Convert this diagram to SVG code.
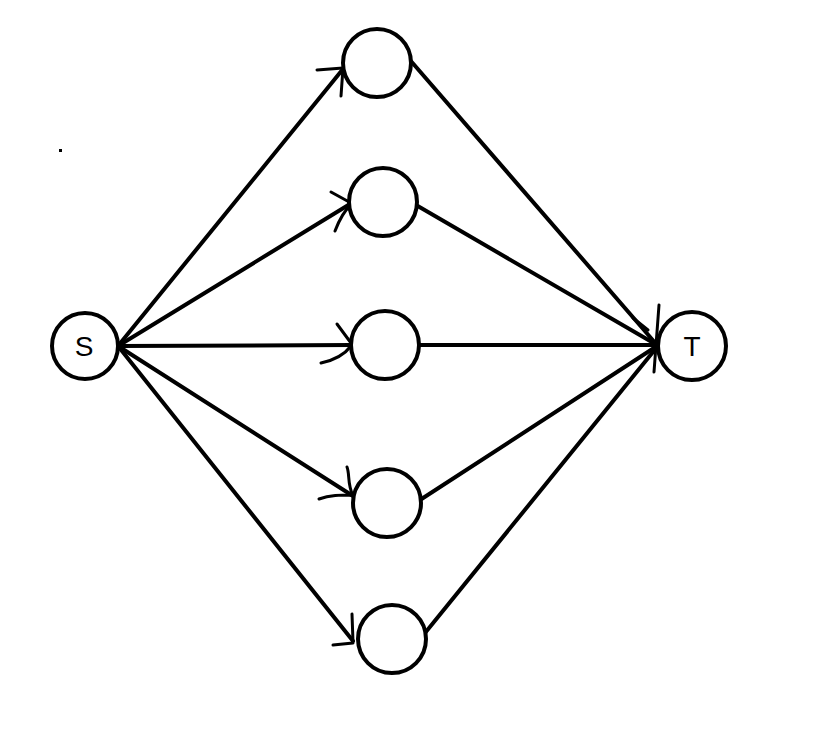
<svg xmlns="http://www.w3.org/2000/svg" width="828" height="756" viewBox="0 0 828 756">
<style>
.n{fill:#fff;stroke:#000;stroke-width:4}
.e{fill:none;stroke:#000;stroke-width:4;stroke-linecap:round;stroke-linejoin:round}
.w{fill:none;stroke:#000;stroke-width:3;stroke-linecap:round;stroke-linejoin:round}
.t{font-family:"Liberation Sans",Arial,sans-serif;font-size:28px;fill:#000;text-anchor:middle}
</style>
<rect width="828" height="756" fill="#fff"/>
<rect x="59" y="149" width="3" height="3" fill="#000"/>
<g id="connectors">
<path class="e" d="M118,346 L343,69"/>
<path class="e" d="M118,346 L350,204"/>
<path class="e" d="M118,346 L352,345"/>
<path class="e" d="M118,346 L353,496"/>
<path class="e" d="M118,346 L353,641"/>
<path class="e" d="M410,60 L657,345"/>
<path class="e" d="M416,205 L657,345"/>
<path class="e" d="M420,345 L657,345"/>
<path class="e" d="M420,500 L657,346"/>
<path class="e" d="M425,633 L657,347"/>
<path class="w" d="M317,70 L343,68 L341,96"/>
<path class="w" d="M331,192 L351,203 M335,231 C340,218 345,210 351,205"/>
<path class="w" d="M337,324 L351,343 M321,363 C335,360 345,354 351,346"/>
<path class="w" d="M347,467 C350,475 347,483 353,496 M319,499 C330,495 340,495 353,495"/>
<path class="w" d="M352,614 L353,642 M333,645 L353,643"/>
<path class="w" d="M659,305 L654,372 M633,318 L648,330"/>
</g>
<g id="S"><circle class="n" cx="85" cy="346" r="33"/><text class="t" x="84" y="356">S</text></g>
<g id="n1"><circle class="n" cx="377" cy="63" r="34"/></g>
<g id="n2"><circle class="n" cx="383" cy="202" r="34"/></g>
<g id="n3"><circle class="n" cx="385" cy="345" r="34"/></g>
<g id="n4"><circle class="n" cx="387" cy="503" r="34"/></g>
<g id="n5"><circle class="n" cx="392" cy="639" r="34"/></g>
<g id="T"><circle class="n" cx="692" cy="346" r="34"/><text class="t" x="692" y="356">T</text></g>
</svg>
